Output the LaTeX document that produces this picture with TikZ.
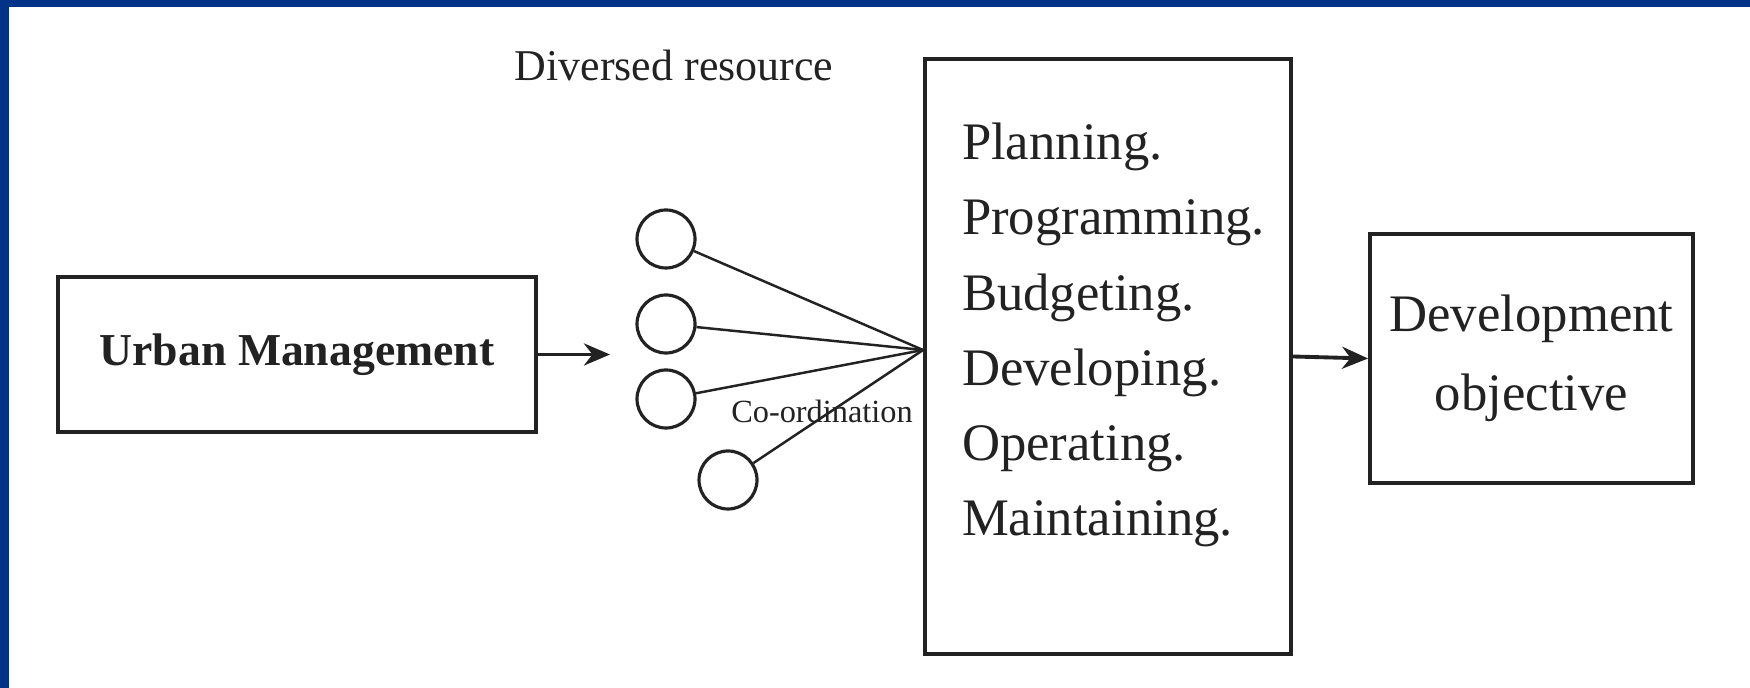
\documentclass[tikz,border=0pt]{standalone}
\usepackage{fontspec}
\setmainfont{Liberation Serif}
\usetikzlibrary{chains, shapes, arrows.meta}
\usetikzlibrary{positioning}
\usepackage{xcolor}
\definecolor{frame}{HTML}{003288}
\definecolor{ink}{HTML}{222222}

\begin{document}
\begin{tikzpicture}
      \tikzstyle{block}=[draw=ink, line width=1.1pt, rectangle, inner sep=0pt, text=ink]
      \tikzstyle{resource}=[draw=ink, line width=0.9pt, circle, minimum size=0.58cm, inner sep=0pt]
      \tikzstyle{link}=[draw=ink, line width=0.7pt]
      \tikzstyle{flow}=[draw=ink, line width=1.1pt, -{Stealth[length=0.26cm, width=0.22cm]}]
      \tikzstyle{task}=[font={\fontsize{15}{18}\selectfont}, text=ink, text width=3.2cm, align=left, text height=0.40cm, text depth=0.12cm, inner sep=0pt]

      \useasboundingbox (0,0) rectangle (17.5,-6.88);
      \fill[white] (0,0) rectangle (17.5,-6.88);
      \fill[frame] (0,0) rectangle (17.5,-0.07);
      \fill[frame] (0,0) rectangle (0.09,-6.88);

      \node[block, minimum width=4.78cm, minimum height=1.55cm, font={\fontsize{13}{15}\selectfont\bfseries}] (urban) at (2.97,-3.545) {Urban Management};
      \coordinate (urbanend) at (6.10,-3.545);
      \draw[flow] (urban.east) -- (urbanend);

      % Diversed resource
      \node[font={\fontsize{12.5}{15}\selectfont}, text=ink] (diverse) at (6.74,-0.65) {Diversed resource};
      \node[resource] (res1) at (6.66,-2.39) {};
      \node[resource] (res2) at (6.66,-3.24) {};
      \node[resource] (res3) at (6.66,-3.99) {};
      \node[resource] (res4) at (7.28,-4.80) {};

      \node[block, minimum width=3.66cm, minimum height=5.95cm] (tasks) at (11.08,-3.565) {};
      \coordinate (hub) at ([yshift=0.065cm]tasks.west);

      \foreach \r in {1,...,4}
        \draw[link] (res\r) -- (hub);

      \node[font={\fontsize{9.2}{11}\selectfont}, text=ink] (coord) at (8.22,-4.11) {Co-ordination};

      \begin{scope}[node distance = .216cm, start chain=task going below]
        \node[on chain=task, task] at (11.22,-1.46) {Planning.};
        \node[on chain=task, task] {Programming.};
        \node[on chain=task, task] {Budgeting.};
        \node[on chain=task, task] {Developing.};
        \node[on chain=task, task] {Operating.};
        \node[on chain=task, task] {Maintaining.};
      \end{scope}

      \node[block, minimum width=3.23cm, minimum height=2.49cm, align=center, font={\fontsize{15}{22.5}\selectfont}] (objective) at (15.315,-3.585) {Development\\objective};
      \draw[flow] (tasks.east) -- (objective.west);
    \end{tikzpicture}
\end{document}
